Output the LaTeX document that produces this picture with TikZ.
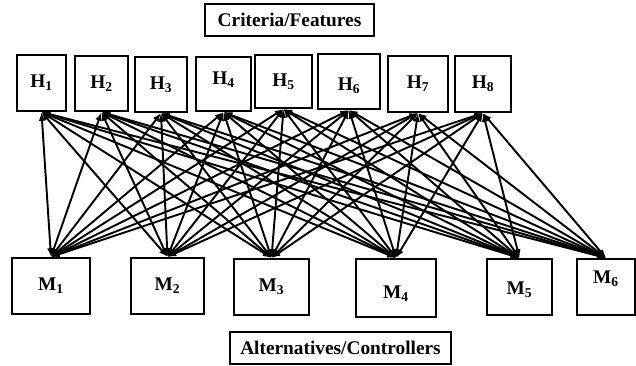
\documentclass[tikz,border=0pt]{standalone}
\usepackage{fontspec}
\setmainfont{Liberation Serif}
\usepackage{tikz}
\usetikzlibrary{arrows.meta, positioning}

\tikzset{
	box/.style={draw, line width=1.6pt, fill=white, inner sep=0pt, font=\fontsize{14.5}{17}\selectfont\bfseries},
	sz/.style 2 args={minimum width=#1*0.75pt, minimum height=#2*0.75pt},
	link/.style={<->, line width=1.45pt}
}
% shift a label up or down inside its box
\newcommand{\shiftlbl}[2]{\raisebox{#1}[\height][\depth]{#2}}

\begin{document}
\begin{tikzpicture}[x=0.75pt, y=-0.75pt, >={Latex[length=6.5pt, width=5pt]}]
	\useasboundingbox (0,0) rectangle (636,366);
	
	% ---------------------------------------------------------
	% TOP ROW: Criteria / Features
	% ---------------------------------------------------------
	\node[box, sz={169}{32}] (crit) at (289.5,20) {Criteria/Features};
	
	\node[box, sz={49}{56}] (h1) at (41.5,83)  {H\textsubscript{1}};
	\node[box, sz={53}{55}] (h2) at (101.5,83.5) {H\textsubscript{2}};
	\node[box, sz={52}{55}] (h3) at (161,84.5) {H\textsubscript{3}};
	\node[box, sz={55}{54}] (h4) at (223.5,84) {\shiftlbl{3pt}{H\textsubscript{4}}};
	\node[box, sz={57}{53}] (h5) at (283.5,81.5) {H\textsubscript{5}};
	\node[box, sz={62}{55}] (h6) at (349,81.5) {\shiftlbl{-3.5pt}{H\textsubscript{6}}};
	\node[box, sz={60}{56}] (h7) at (418,84) {H\textsubscript{7}};
	\node[box, sz={56}{56}] (h8) at (483,84) {H\textsubscript{8}};
	
	% ---------------------------------------------------------
	% BOTTOM ROW: Alternatives / Controllers
	% ---------------------------------------------------------
	\node[box, sz={78}{56}] (m1) at (51,286)    {M\textsubscript{1}};
	\node[box, sz={73}{56}] (m2) at (167.5,286) {M\textsubscript{2}};
	\node[box, sz={75}{56}] (m3) at (271.5,287) {M\textsubscript{3}};
	\node[box, sz={80}{58}] (m4) at (396,288)   {\shiftlbl{-4pt}{M\textsubscript{4}}};
	\node[box, sz={65}{56}] (m5) at (519.5,287) {\shiftlbl{-2pt}{M\textsubscript{5}}};
	\node[box, sz={58}{56}] (m6) at (606,287)   {\shiftlbl{6pt}{M\textsubscript{6}}};
	
	\node[box, sz={221}{32}] (alt) at (340.5,348) {Alternatives/Controllers};
	
	% every criterion linked to every alternative
	\foreach \i in {1,...,8}
	\foreach \j in {1,...,6}
	\draw[link] (h\i.south) -- (m\j.north);
	
\end{tikzpicture}
\end{document}
